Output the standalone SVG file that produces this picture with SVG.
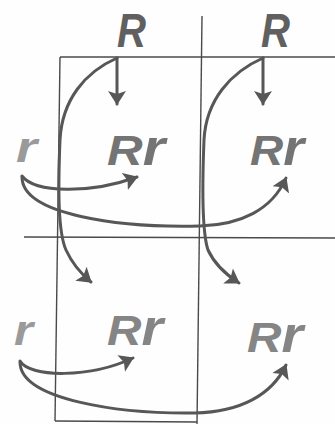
<svg xmlns="http://www.w3.org/2000/svg" width="335" height="424" viewBox="0 0 335 424">
<style>
.bg{fill:#fefefe}
.grid{stroke:#4a4a4a;stroke-width:1.4;fill:none}
.con{stroke:#575757;stroke-width:3;fill:none;stroke-linecap:round}
.lbl{font-family:"Liberation Sans",Arial,sans-serif;font-weight:bold;font-style:italic}
.R{fill:#606060;font-size:48px}
.rr1{fill:#747474;font-size:43px}
.rr2{fill:#858585;font-size:43px}
.r{fill:#9a9a9a;font-size:42px}
</style>
<defs>
<marker id="ah" markerUnits="userSpaceOnUse" markerWidth="20" markerHeight="20" viewBox="0 0 20 20" refX="13" refY="10" orient="auto">
<path d="M0,1 L14,10 L0,19 L3,10 Z" fill="#575757"/>
</marker>
</defs>
<rect class="bg" x="0" y="0" width="335" height="424"/>
<g id="grid">
<line class="grid" x1="60" y1="57" x2="55" y2="421"/>
<line class="grid" x1="202" y1="16" x2="197" y2="424"/>
<line class="grid" x1="60" y1="57" x2="335" y2="57"/>
<line class="grid" x1="24" y1="237" x2="335" y2="238"/>
<line class="grid" x1="55" y1="421" x2="197" y2="422"/>
</g>
<g id="connectors">
<path class="con" d="M117,58 L117,104" marker-end="url(#ah)"/>
<path class="con" d="M263,58 L263,104" marker-end="url(#ah)"/>
<path class="con" d="M117,58 C85,72 62,100 60,140 C58,190 58,232 66,250 C72,263 80,273 91,282" marker-end="url(#ah)"/>
<path class="con" d="M263,58 C231,72 206,100 204,140 C202,190 202,232 208,250 C214,263 225,274 239,283" marker-end="url(#ah)"/>
<path class="con" d="M22,176 C35,193 90,194 137,177" marker-end="url(#ah)"/>
<path class="con" d="M22,177 C22,215 120,228 200,226 C240,225 272,210 286,178" marker-end="url(#ah)"/>
<path class="con" d="M20,361 C30,378 90,378 133,358" marker-end="url(#ah)"/>
<path class="con" d="M20,362 C20,400 120,414 195,413 C240,412 272,395 286,365" marker-end="url(#ah)"/>
</g>
<g id="R1"><text class="lbl R" x="117" y="47" textLength="29" lengthAdjust="spacingAndGlyphs">R</text></g>
<g id="R2"><text class="lbl R" x="261" y="47" textLength="29" lengthAdjust="spacingAndGlyphs">R</text></g>
<g id="r1"><text class="lbl r" x="16" y="162" textLength="21" lengthAdjust="spacingAndGlyphs">r</text></g>
<g id="r2"><text class="lbl r" x="14" y="345" textLength="19" lengthAdjust="spacingAndGlyphs">r</text></g>
<g id="cell11"><text class="lbl rr1" x="107" y="165" textLength="58" lengthAdjust="spacingAndGlyphs">R<tspan font-size="50">r</tspan></text></g>
<g id="cell12"><text class="lbl rr1" x="250" y="165" textLength="54" lengthAdjust="spacingAndGlyphs">R<tspan font-size="50">r</tspan></text></g>
<g id="cell21"><text class="lbl rr2" x="107" y="345" textLength="56" lengthAdjust="spacingAndGlyphs">R<tspan font-size="50">r</tspan></text></g>
<g id="cell22"><text class="lbl rr2" x="247" y="352" textLength="56" lengthAdjust="spacingAndGlyphs">R<tspan font-size="50">r</tspan></text></g>
</svg>
